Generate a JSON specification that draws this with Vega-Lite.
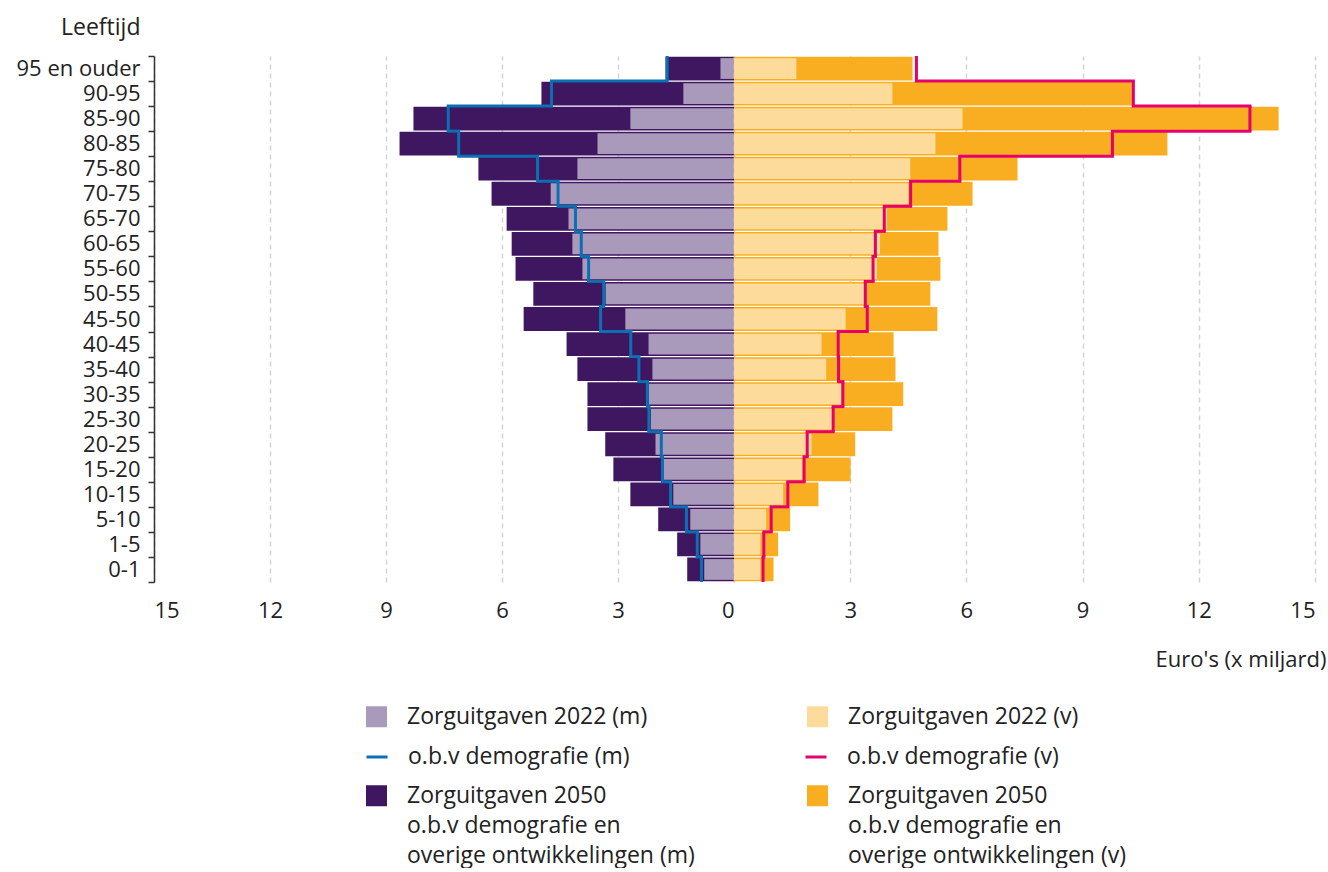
{
  "$schema": "https://vega.github.io/schema/vega-lite/v6.json",
  "padding": {"left": 16, "top": 16, "right": 0, "bottom": 0},
  "background": "white",
  "config": {
    "view": {"stroke": null},
    "font": "Open Sans",
    "style": {"guide-label": {"lineHeight": 30}},
    "axis": {"labelFont": "Open Sans", "titleFont": "Open Sans", "labelColor": "#222", "titleColor": "#222", "titleFontWeight": "normal"},
    "legend": {"labelFont": "Open Sans", "labelFontSize": 23, "labelColor": "#222", "labelOffset": 19, "labelLimit": 0, "symbolSize": 441, "title": null, "orient": "none", "direction": "horizontal", "columns": 2}
  },
  "datasets": {
    "zorg": [
      {"age": "95 en ouder", "m22": 0.35, "m50": 1.77, "mdemo": 1.73, "v22": 1.61, "v50": 4.61, "vdemo": 4.71},
      {"age": "90-95", "m22": 1.31, "m50": 4.98, "mdemo": 4.72, "v22": 4.09, "v50": 10.28, "vdemo": 10.31},
      {"age": "85-90", "m22": 2.68, "m50": 8.29, "mdemo": 7.39, "v22": 5.90, "v50": 14.06, "vdemo": 13.32},
      {"age": "80-85", "m22": 3.53, "m50": 8.65, "mdemo": 7.12, "v22": 5.20, "v50": 11.19, "vdemo": 9.77},
      {"age": "75-80", "m22": 4.05, "m50": 6.61, "mdemo": 5.08, "v22": 4.55, "v50": 7.32, "vdemo": 5.83},
      {"age": "70-75", "m22": 4.74, "m50": 6.27, "mdemo": 4.55, "v22": 4.50, "v50": 6.16, "vdemo": 4.56},
      {"age": "65-70", "m22": 4.28, "m50": 5.88, "mdemo": 4.10, "v22": 3.95, "v50": 5.51, "vdemo": 3.88},
      {"age": "60-65", "m22": 4.18, "m50": 5.75, "mdemo": 3.95, "v22": 3.77, "v50": 5.28, "vdemo": 3.65},
      {"age": "55-60", "m22": 3.92, "m50": 5.65, "mdemo": 3.76, "v22": 3.69, "v50": 5.33, "vdemo": 3.59},
      {"age": "50-55", "m22": 3.32, "m50": 5.19, "mdemo": 3.37, "v22": 3.41, "v50": 5.07, "vdemo": 3.39},
      {"age": "45-50", "m22": 2.81, "m50": 5.44, "mdemo": 3.45, "v22": 2.88, "v50": 5.25, "vdemo": 3.44},
      {"age": "40-45", "m22": 2.21, "m50": 4.33, "mdemo": 2.67, "v22": 2.26, "v50": 4.12, "vdemo": 2.69},
      {"age": "35-40", "m22": 2.11, "m50": 4.05, "mdemo": 2.46, "v22": 2.38, "v50": 4.17, "vdemo": 2.70},
      {"age": "30-35", "m22": 2.20, "m50": 3.79, "mdemo": 2.24, "v22": 2.77, "v50": 4.37, "vdemo": 2.81},
      {"age": "25-30", "m22": 2.15, "m50": 3.79, "mdemo": 2.20, "v22": 2.54, "v50": 4.09, "vdemo": 2.56},
      {"age": "20-25", "m22": 2.03, "m50": 3.33, "mdemo": 1.88, "v22": 2.00, "v50": 3.13, "vdemo": 1.89},
      {"age": "15-20", "m22": 1.83, "m50": 3.12, "mdemo": 1.85, "v22": 1.76, "v50": 3.01, "vdemo": 1.81},
      {"age": "10-15", "m22": 1.57, "m50": 2.68, "mdemo": 1.64, "v22": 1.27, "v50": 2.18, "vdemo": 1.39},
      {"age": "5-10", "m22": 1.13, "m50": 1.96, "mdemo": 1.23, "v22": 0.83, "v50": 1.45, "vdemo": 0.96},
      {"age": "1-5", "m22": 0.87, "m50": 1.47, "mdemo": 0.95, "v22": 0.68, "v50": 1.14, "vdemo": 0.77},
      {"age": "0-1", "m22": 0.77, "m50": 1.21, "mdemo": 0.84, "v22": 0.68, "v50": 1.02, "vdemo": 0.75}
    ]
  },
  "data": {"name": "zorg"},
  "spacing": 0,
  "resolve": {"scale": {"x": "independent", "y": "shared", "color": "shared", "fill": "shared", "stroke": "shared"}, "axis": {"x": "independent", "y": "independent"}},
  "hconcat": [
    {
      "width": 580,
      "height": 526,
      "layer": [
        {
          "mark": {"type": "bar", "height": {"band": 0.95}},
          "encoding": {
            "y": {"field": "age", "type": "ordinal", "sort": null,
              "scale": {"type": "band", "paddingInner": 0, "paddingOuter": 0, "domain": ["95 en ouder","90-95","85-90","80-85","75-80","70-75","65-70","60-65","55-60","50-55","45-50","40-45","35-40","30-35","25-30","20-25","15-20","10-15","5-10","1-5","0-1"]},
              "axis": {"title": "Leeftijd", "titleAngle": 0, "titleAlign": "right", "titleBaseline": "middle", "titleX": -14, "titleY": -29, "titleFontSize": 23,
                "labelFontSize": 22, "labelPadding": 8, "tickSize": 6, "tickBand": "extent", "tickColor": "#333", "tickWidth": 1.5, "domainColor": "#333", "domainWidth": 1.5, "grid": false}},
            "x": {"field": "m50", "type": "quantitative",
              "scale": {"domain": [0, 15], "reverse": true, "nice": false, "zero": true},
              "axis": {"title": null, "values": [0, 3, 6, 9, 12, 15], "domain": false, "ticks": false, "labelFontSize": 22, "labelPadding": 18,
                "grid": true, "gridDash": [5, 4], "gridColor": "#d4d4d4", "gridWidth": 1.5}},
            "color": {"datum": "Zorguitgaven 2050 o.b.v demografie en overige ontwikkelingen (m)", "type": "nominal",
              "scale": {"domain": ["Zorguitgaven 2050 o.b.v demografie en overige ontwikkelingen (m)", "Zorguitgaven 2050 o.b.v demografie en overige ontwikkelingen (v)"],
                "range": ["#3f1660", "#f9ae22"]},
              "legend": {"legendX": 211, "legendY": 728, "columnPadding": 111, "symbolType": "square", "labelBaseline": "middle",
                "labelExpr": "['Zorguitgaven 2050', 'o.b.v demografie en', 'overige ontwikkelingen ' + slice(datum.label, -3)]"}}
          }
        },
        {
          "mark": {"type": "bar", "height": {"band": 0.83}},
          "encoding": {
            "y": {"field": "age", "type": "ordinal", "sort": null},
            "x": {"field": "m22", "type": "quantitative"},
            "fill": {"datum": "Zorguitgaven 2022 (m)", "type": "nominal",
              "scale": {"domain": ["Zorguitgaven 2022 (m)", "Zorguitgaven 2022 (v)"], "range": ["#a999bb", "#fddc9b"]},
              "legend": {"legendX": 211, "legendY": 649, "columnPadding": 158, "symbolType": "square"}}
          }
        },
        {
          "mark": {"type": "rect", "filled": false, "strokeWidth": 3},
          "encoding": {
            "y": {"field": "age", "type": "ordinal", "sort": null},
            "x": {"field": "mdemo", "type": "quantitative"},
            "x2": {"field": "mdemo"},
            "stroke": {"datum": "o.b.v demografie (m)", "type": "nominal",
              "scale": {"domain": ["o.b.v demografie (m)", "o.b.v demografie (v)"], "range": ["#0b6fb4", "#e5006e"]},
              "legend": {"legendX": 211, "legendY": 689, "columnPadding": 169, "symbolType": "stroke", "symbolStrokeWidth": 3}}
          }
        },
        {
          "transform": [{"window": [{"op": "lead", "field": "mdemo", "as": "mnext"}]}, {"filter": "isValid(datum.mnext)"}],
          "mark": {"type": "rule", "strokeWidth": 3, "strokeCap": "square"},
          "encoding": {
            "y": {"field": "age", "type": "ordinal", "sort": null, "bandPosition": 1},
            "x": {"field": "mdemo", "type": "quantitative"},
            "x2": {"field": "mnext"},
            "stroke": {"datum": "o.b.v demografie (m)", "type": "nominal"}
          }
        }
      ]
    },
    {
      "width": 581,
      "height": 526,
      "layer": [
        {
          "mark": {"type": "bar", "height": {"band": 0.95}},
          "encoding": {
            "y": {"field": "age", "type": "ordinal", "sort": null, "axis": null},
            "x": {"field": "v50", "type": "quantitative",
              "scale": {"domain": [0, 15], "nice": false, "zero": true},
              "axis": {"title": "Euro's (x miljard)", "titleAnchor": "end", "titleAlign": "right", "titleBaseline": "middle", "titleX": 592, "titleY": 77, "titleFontSize": 22,
                "values": [0, 3, 6, 9, 12, 15], "labelExpr": "datum.value == 0 ? '' : datum.label", "domain": false, "ticks": false, "labelFontSize": 22, "labelPadding": 18,
                "grid": true, "gridDash": [5, 4], "gridColor": "#d4d4d4", "gridWidth": 1.5}},
            "color": {"datum": "Zorguitgaven 2050 o.b.v demografie en overige ontwikkelingen (v)", "type": "nominal"}
          }
        },
        {
          "mark": {"type": "bar", "height": {"band": 0.83}},
          "encoding": {
            "y": {"field": "age", "type": "ordinal", "sort": null},
            "x": {"field": "v22", "type": "quantitative"},
            "fill": {"datum": "Zorguitgaven 2022 (v)", "type": "nominal"}
          }
        },
        {
          "mark": {"type": "rect", "filled": false, "strokeWidth": 3},
          "encoding": {
            "y": {"field": "age", "type": "ordinal", "sort": null},
            "x": {"field": "vdemo", "type": "quantitative"},
            "x2": {"field": "vdemo"},
            "stroke": {"datum": "o.b.v demografie (v)", "type": "nominal"}
          }
        },
        {
          "transform": [{"window": [{"op": "lead", "field": "vdemo", "as": "vnext"}]}, {"filter": "isValid(datum.vnext)"}],
          "mark": {"type": "rule", "strokeWidth": 3, "strokeCap": "square"},
          "encoding": {
            "y": {"field": "age", "type": "ordinal", "sort": null, "bandPosition": 1},
            "x": {"field": "vdemo", "type": "quantitative"},
            "x2": {"field": "vnext"},
            "stroke": {"datum": "o.b.v demografie (v)", "type": "nominal"}
          }
        }
      ]
    }
  ]
}
